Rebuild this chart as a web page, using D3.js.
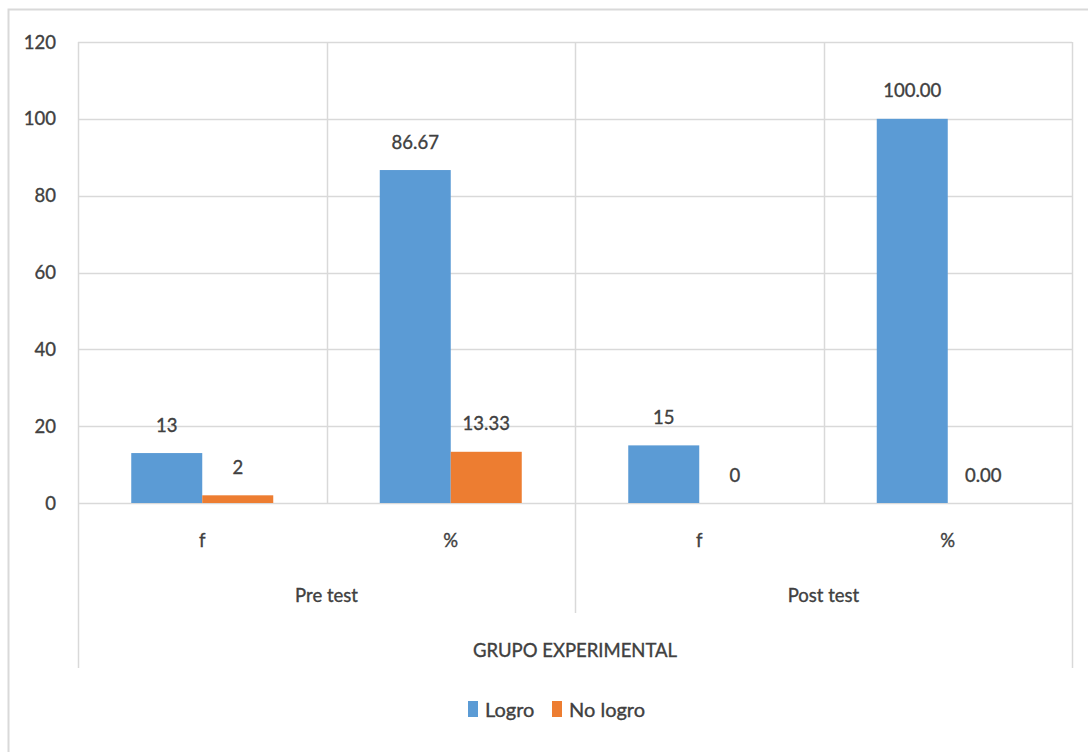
<!DOCTYPE html>
<html><head><meta charset="utf-8">
<script src="https://cdn.jsdelivr.net/npm/d3@7"></script>
<style>
html,body{margin:0;padding:0;background:#fff;}
text{font-family:Lato,"Open Sans",sans-serif;fill:#404040;stroke:#404040;stroke-width:0.35px;}
</style></head>
<body><svg id="c" width="1088" height="752"></svg>
<script>
const categories = ["f", "%", "f", "%"];
const groups = ["Pre test", "Post test"];
const series = ["Logro", "No logro"];
const logro = [13, 86.67, 15, 100];
const noLogro = [2, 13.33, 0, 0];
const yTicks = [0, 20, 40, 60, 80, 100, 120];
const axisTitle = "GRUPO EXPERIMENTAL";
const colors = ["#5B9BD5", "#ED7D31"];

const svg = d3.select("#c");
const L = 78, R = 1072, T = 42, B = 503;
const fs = 18.5;

svg.append("rect").attr("x", 8.5).attr("y", 9.5).attr("width", 1200).attr("height", 900)
  .attr("fill", "none").attr("stroke", "#d9d9d9").attr("stroke-width", 2);

const y = d3.scaleLinear().domain([0, 120]).range([B, T]);
const keys = categories.map((c, i) => i);
const x = d3.scaleBand().domain(keys).range([L, R]).padding(0);
const x1 = d3.scaleBand().domain(series).range([0, x.bandwidth()]).paddingInner(0).paddingOuter(0.75);
const grid = "#d9d9d9";

// horizontal gridlines
svg.append("g").selectAll("line").data(yTicks).join("line")
  .attr("x1", L).attr("x2", R).attr("y1", d => Math.round(y(d)) + 0.5).attr("y2", d => Math.round(y(d)) + 0.5)
  .attr("stroke", grid).attr("stroke-width", 1.5);

// vertical lines
const vlines = [
  {x: L, y2: 668}, {x: x(1), y2: B}, {x: x(2), y2: 613}, {x: x(3), y2: B}, {x: R, y2: 668}
];
svg.append("g").selectAll("line").data(vlines).join("line")
  .attr("x1", d => Math.round(d.x) + 0.5).attr("x2", d => Math.round(d.x) + 0.5)
  .attr("y1", T).attr("y2", d => d.y2).attr("stroke", grid).attr("stroke-width", 1.5);

// y axis labels
svg.append("g").selectAll("text").data(yTicks).join("text")
  .attr("x", 56).attr("y", d => y(d) + 6.5).attr("text-anchor", "end").attr("font-size", fs).text(d => d);

// bars
const vals = [logro, noLogro];
const data = [];
categories.forEach((c, i) => series.forEach((s, j) => data.push({i, c, s, j, v: vals[j][i]})));
svg.append("g").selectAll("rect").data(data).join("rect")
  .attr("x", d => x(d.i) + x1(d.s)).attr("width", x1.bandwidth())
  .attr("y", d => y(d.v)).attr("height", d => B - y(d.v)).attr("fill", d => colors[d.j]);

// value labels
const fmt = d => d.c === "%" ? d3.format(".2f")(d.v) : d3.format("d")(d.v);
svg.append("g").selectAll("text").data(data).join("text")
  .attr("x", d => x(d.i) + x1(d.s) + x1.bandwidth() / 2)
  .attr("y", d => y(d.v) - 21.5).attr("text-anchor", "middle").attr("font-size", fs).text(fmt);

// category labels
svg.append("g").selectAll("text").data(keys).join("text")
  .attr("x", d => x(d) + x.bandwidth() / 2).attr("y", 547).attr("text-anchor", "middle")
  .attr("font-size", fs).text(d => categories[d]);

// group labels
svg.append("g").selectAll("text").data(groups).join("text")
  .attr("x", (d, i) => (x(i * 2) + x(i * 2 + 1) + x.bandwidth()) / 2).attr("y", 602)
  .attr("text-anchor", "middle").attr("font-size", fs).text(d => d);

svg.append("text").attr("x", (L + R) / 2).attr("y", 657).attr("text-anchor", "middle")
  .attr("font-size", fs).text(axisTitle);

// legend
const lg = svg.append("g");
const lx = [468, 552];
series.forEach((s, j) => {
  lg.append("rect").attr("x", lx[j]).attr("y", 701).attr("width", 10).attr("height", 16).attr("fill", colors[j]);
  lg.append("text").attr("x", lx[j] + 17).attr("y", 717).attr("font-size", 20).text(s);
});
</script></body></html>
